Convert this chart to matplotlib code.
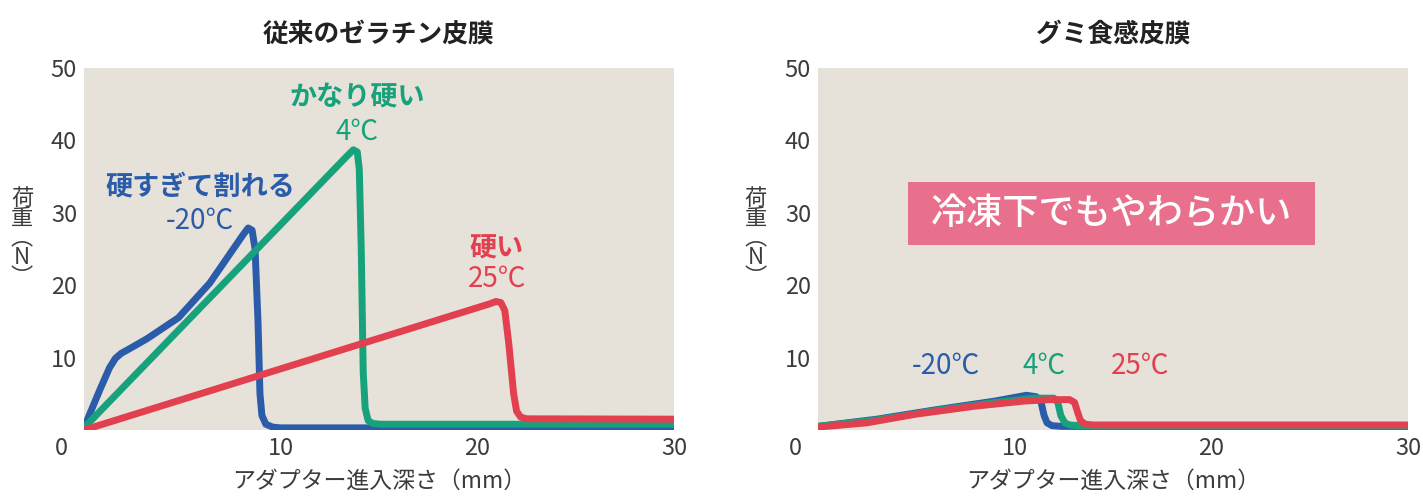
import matplotlib.pyplot as plt
from matplotlib.patches import Rectangle

plt.rcParams['font.family'] = ['Noto Sans CJK JP', 'DejaVu Sans']

# --- data (x: mm, y: N) ---
titles = ['従来のゼラチン皮膜', 'グミ食感皮膜']
xlabel = 'アダプター進入深さ（mm）'
ylabel = '荷\n重\n︵\nN\n︶'

# conventional gelatin film
gel_blue_x = [0, 0.8, 1.3, 1.6, 1.9, 2.3, 3.2, 4.8, 6.4, 8.1, 8.35, 8.55, 8.7, 8.85, 8.95, 9.05, 9.25, 9.6, 10.0, 30]
gel_blue_y = [0.3, 5.5, 8.6, 9.9, 10.6, 11.2, 12.6, 15.5, 20.3, 27.0, 27.9, 27.6, 25.0, 15.0, 5.0, 2.0, 0.8, 0.4, 0.3, 0.3]
gel_green_x = [0, 13.4, 13.7, 13.9, 14.0, 14.1, 14.2, 14.3, 14.45, 14.7, 15.1, 30]
gel_green_y = [0.3, 37.9, 38.7, 38.4, 36.0, 25.0, 8.0, 3.0, 1.3, 0.9, 0.8, 0.8]
gel_red_x = [0, 20.6, 20.95, 21.2, 21.4, 21.6, 21.85, 22.0, 22.2, 22.5, 30]
gel_red_y = [0.0, 17.4, 17.75, 17.6, 16.5, 12.0, 5.0, 2.6, 1.8, 1.55, 1.5]

# gummy-texture film
gum_blue_x = [0, 3.0, 6.0, 9.0, 10.6, 11.1, 11.35, 11.5, 11.65, 11.9, 12.4, 30]
gum_blue_y = [0.5, 1.5, 2.8, 4.0, 4.8, 4.6, 3.8, 2.0, 1.0, 0.6, 0.5, 0.5]
gum_green_x = [0, 3.0, 6.0, 9.0, 11.0, 12.0, 12.2, 12.35, 12.55, 12.8, 13.3, 30]
gum_green_y = [0.5, 1.4, 2.7, 3.8, 4.4, 4.4, 3.8, 2.0, 1.0, 0.7, 0.6, 0.6]
gum_red_x = [0, 2.5, 5.0, 8.0, 10.5, 11.8, 12.8, 13.05, 13.2, 13.35, 13.6, 14.0, 30]
gum_red_y = [0.4, 1.0, 2.2, 3.3, 4.0, 4.2, 4.2, 3.8, 2.5, 1.3, 0.8, 0.7, 0.7]

gel_labels = [('硬すぎて割れる', '-20℃', 5.9, 33.6, 28.9),
              ('かなり硬い', '4℃', 13.9, 45.9, 41.2),
              ('硬い', '25℃', 21.0, 25.0, 20.9)]
gum_labels = ['-20℃', '4℃', '25℃']
gum_label_x = [6.5, 11.5, 16.4]
gum_label_y = 8.8
callout = '冷凍下でもやわらかい'

BLUE = '#2b5caa'
GREEN = '#17a27b'
RED = '#e2404f'
PINK = '#e8708d'
BG = '#e6e2da'
TXT = '#3c3c3c'

fig = plt.figure(figsize=(14.23, 4.96), dpi=100)
ax1 = fig.add_axes([0.059, 0.133, 0.4146, 0.730])
ax2 = fig.add_axes([0.5748, 0.133, 0.4146, 0.730])


def style_axis(ax, title):
    ax.set_facecolor(BG)
    ax.set_xlim(0, 30)
    ax.set_ylim(0, 50)
    for s in ax.spines.values():
        s.set_visible(False)
    ax.set_xticks([10, 20, 30])
    ax.set_yticks([10, 20, 30, 40, 50])
    ax.tick_params(length=0, labelsize=17, labelcolor=TXT, pad=5)
    ax.set_xlabel(xlabel, fontsize=16.5, color=TXT, labelpad=7)
    ax.set_title(title, fontsize=18.5, fontweight='bold', color='#222222', pad=19)
    # shared origin label sits below-left of the corner
    ax.annotate('0', xy=(0, 0), xytext=(-16, -13), textcoords='offset points',
                ha='center', va='center', fontsize=17, color=TXT,
                annotation_clip=False)
    ax.text(-0.105, 0.53, ylabel, transform=ax.transAxes, fontsize=16,
            color=TXT, ha='center', va='center', linespacing=0.82)


style_axis(ax1, titles[0])
style_axis(ax2, titles[1])

kw = dict(solid_joinstyle='round', solid_capstyle='butt', clip_on=True)
ax1.plot(gel_blue_x, gel_blue_y, color=BLUE, lw=5, **kw)
ax1.plot(gel_green_x, gel_green_y, color=GREEN, lw=5, **kw)
ax1.plot(gel_red_x, gel_red_y, color=RED, lw=5, **kw)

for (top, temp, x, y_top, y_temp), c in zip(gel_labels, [BLUE, GREEN, RED]):
    ax1.text(x, y_top, top, ha='center', va='center', fontsize=19.5,
             fontweight='bold', color=c)
    ax1.text(x, y_temp, temp, ha='center', va='center', fontsize=20, color=c)

ax2.plot(gum_blue_x, gum_blue_y, color=BLUE, lw=5, **kw)
ax2.plot(gum_green_x, gum_green_y, color=GREEN, lw=5, **kw)
ax2.plot(gum_red_x, gum_red_y, color=RED, lw=5, **kw)

for lab, x, c in zip(gum_labels, gum_label_x, [BLUE, GREEN, RED]):
    ax2.text(x, gum_label_y, lab, ha='center', va='center', fontsize=20, color=c)

ax2.add_patch(Rectangle((4.6, 25.5), 20.7, 8.7, facecolor=PINK, edgecolor='none'))
ax2.text(14.95, 29.9, callout, ha='center', va='center', fontsize=26,
         fontweight='medium', color='white')

fig.savefig('out.png', dpi=100, facecolor='white')
